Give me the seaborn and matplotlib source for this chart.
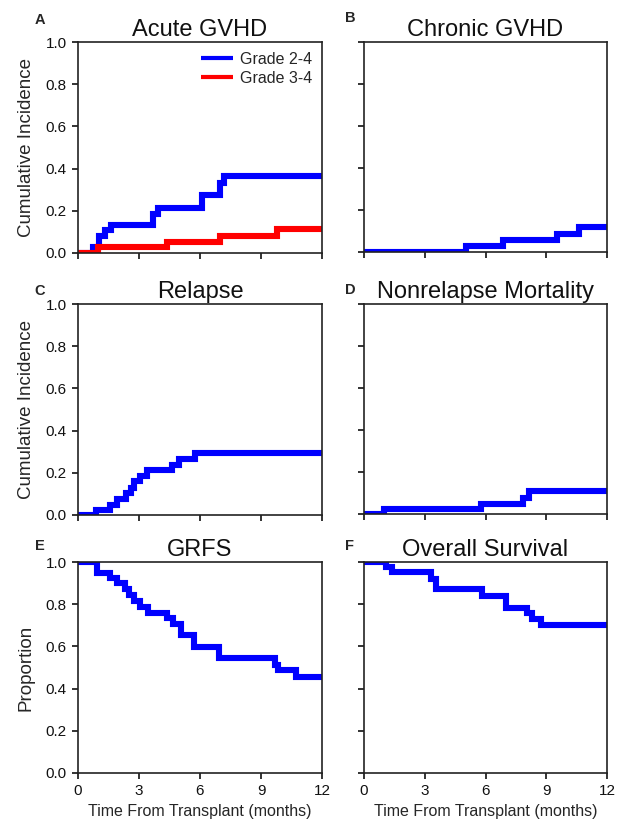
import numpy as np
import pandas as pd
import seaborn as sns
from matplotlib import pyplot as plt

# step curves (months, value at each step)
agvhd24_t = [0, 0.74, 1.04, 1.32, 1.64, 3.7, 3.95, 6.09, 6.99, 7.19, 12]
agvhd24_y = [0, 0.03, 0.08, 0.11, 0.135, 0.185, 0.215, 0.275, 0.33, 0.365, 0.365]
agvhd34_t = [0, 0.99, 4.36, 6.96, 9.79, 12]
agvhd34_y = [0, 0.027, 0.054, 0.08, 0.115, 0.115]

cgvhd_t = [0, 5.03, 6.84, 9.53, 10.62, 12]
cgvhd_y = [0, 0.027, 0.055, 0.088, 0.12, 0.12]

relapse_t = [0, 0.88, 1.57, 1.9, 2.37, 2.6, 2.76, 3.06, 3.39, 4.64, 4.97, 5.75, 12]
relapse_y = [0, 0.024, 0.048, 0.076, 0.103, 0.13, 0.159, 0.187, 0.211, 0.238, 0.267, 0.294, 0.294]

nrm_t = [0, 0.99, 5.76, 7.85, 8.13, 12]
nrm_y = [0, 0.024, 0.05, 0.078, 0.11, 0.11]

grfs_t = [0, 0.91, 1.57, 1.9, 2.32, 2.53, 2.76, 3.06, 3.43, 4.39, 4.69, 5.05, 5.71,
          6.95, 9.69, 9.82, 10.7, 12]
grfs_y = [1.0, 0.947, 0.925, 0.90, 0.872, 0.845, 0.816, 0.787, 0.76, 0.736, 0.707, 0.653, 0.597,
          0.544, 0.512, 0.488, 0.456, 0.456]

os_t = [0, 1.07, 1.40, 3.29, 3.54, 5.84, 6.99, 8.06, 8.31, 8.72, 12]
os_y = [1.0, 0.978, 0.951, 0.919, 0.871, 0.84, 0.784, 0.756, 0.729, 0.70, 0.70]

titles = ["Acute GVHD", "Chronic GVHD", "Relapse", "Nonrelapse Mortality", "GRFS", "Overall Survival"]
letters = ["A", "B", "C", "D", "E", "F"]
ylabels = ["Cumulative Incidence", None, "Cumulative Incidence", None, "Proportion", None]
xticks = [0, 3, 6, 9, 12]
yticks = [0.0, 0.2, 0.4, 0.6, 0.8, 1.0]

sns.set_theme(style="ticks")
plt.rcParams['font.family'] = ['Liberation Sans', 'DejaVu Sans']

W, H = 621, 827
fig = plt.figure(figsize=(W / 100, H / 100), dpi=100)

# axes boxes in pixels: left, top, right, bottom
boxes = [(78, 42, 322, 253), (364, 42, 607, 252),
         (78, 304, 322, 515), (364, 304, 607, 514),
         (78, 562, 322, 773), (364, 562, 607, 773)]
letter_pos = [(40, 20), (350, 18), (40, 291), (350, 290), (40, 546), (350, 546)]

curves = [
    [(agvhd24_t, agvhd24_y, "Grade 2-4", "#0000ff"), (agvhd34_t, agvhd34_y, "Grade 3-4", "#ff0000")],
    [(cgvhd_t, cgvhd_y, None, "#0000ff")],
    [(relapse_t, relapse_y, None, "#0000ff")],
    [(nrm_t, nrm_y, None, "#0000ff")],
    [(grfs_t, grfs_y, None, "#0000ff")],
    [(os_t, os_y, None, "#0000ff")],
]

for i, (l, t, r, b) in enumerate(boxes):
    ax = fig.add_axes([l / W, 1 - b / H, (r - l) / W, (b - t) / H])
    for times, vals, lab, col in curves[i]:
        df = pd.DataFrame({"t": times, "y": vals})
        sns.lineplot(data=df, x="t", y="y", ax=ax, color=col, linewidth=4.4,
                     drawstyle="steps-post", estimator=None, sort=False, label=lab,
                     solid_capstyle="butt", solid_joinstyle="miter")
    ax.set_xlim(0, 12)
    ax.set_ylim(0, 1)
    ax.set_xticks(xticks)
    ax.set_yticks(yticks)
    ax.set_yticklabels([f"{v:.1f}" for v in yticks])
    if i < 4:
        ax.set_xticklabels([])
        ax.set_xlabel("")
    else:
        ax.set_xlabel("Time From Transplant (months)", fontsize=11.5, labelpad=4)
    if ylabels[i]:
        ax.set_ylabel(ylabels[i], fontsize=13.5, labelpad=8)
    else:
        ax.set_yticklabels([])
        ax.set_ylabel("")
    ax.tick_params(direction="out", length=4, width=1.2, labelsize=11, colors="#111111", pad=4)
    for s in ax.spines.values():
        s.set_linewidth(1.2)
        s.set_color("#222222")
    ax.set_title(titles[i], fontsize=17, pad=4, color="#111111")
    if i == 0:
        leg = ax.legend(loc="upper right", frameon=False, fontsize=11.5, handlelength=2.0,
                        handletextpad=0.45, borderaxespad=0.2, labelspacing=0.25)
        for h in leg.get_lines():
            h.set_linewidth(3.0)
    elif ax.get_legend():
        ax.get_legend().remove()
    lx, ly = letter_pos[i]
    fig.text(lx / W, 1 - ly / H, letters[i], fontsize=10.5, fontweight="bold",
             ha="center", va="center")

fig.savefig("out.png", dpi=100)
